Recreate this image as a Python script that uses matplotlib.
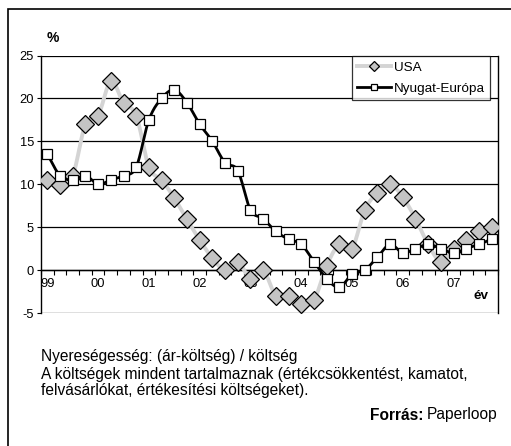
import numpy as np
import matplotlib
matplotlib.use("Agg")
import matplotlib.pyplot as plt
from matplotlib.patches import Rectangle
from matplotlib.lines import Line2D

plt.rcParams['font.family'] = ['Liberation Sans', 'DejaVu Sans']

# quarterly data 1999Q1 .. 2007Q4
year_labels = ["99", "00", "01", "02", "03", "04", "05", "06", "07"]
usa = [10.5, 9.9, 11.0, 17.0, 18.0, 22.0, 19.5, 18.0, 12.0, 10.5,
       8.4, 5.9, 3.5, 1.4, 0.0, 1.0, -1.0, 0.0, -3.0, -3.0,
       -4.0, -3.5, 0.5, 3.0, 2.5, 7.0, 9.0, 10.0, 8.5, 6.0,
       3.0, 1.0, 2.5, 3.5, 4.5, 5.0]
europe = [13.5, 11.0, 10.5, 11.0, 10.0, 10.5, 11.0, 12.0, 17.5, 20.0,
          21.0, 19.5, 17.0, 15.0, 12.5, 11.6, 7.0, 6.0, 4.5, 3.6,
          3.0, 1.0, -1.0, -2.0, -0.5, 0.0, 1.5, 3.0, 2.0, 2.5,
          3.0, 2.5, 2.0, 2.5, 3.0, 3.6]
series_names = ["USA", "Nyugat-Európa"]
yticks = [-5, 0, 5, 10, 15, 20, 25]


def smooth(x, y, n=20):
    """Catmull-Rom style smoothing of the connecting line (Excel 'smoothed line')."""
    x = np.asarray(x, float)
    y = np.asarray(y, float)
    px = np.concatenate([[2 * x[0] - x[1]], x, [2 * x[-1] - x[-2]]])
    py = np.concatenate([[2 * y[0] - y[1]], y, [2 * y[-1] - y[-2]]])
    xs, ys = [], []
    t = np.linspace(0, 1, n, endpoint=False)
    for i in range(1, len(px) - 2):
        p0, p1, p2, p3 = (np.array([px[j], py[j]]) for j in (i - 1, i, i + 1, i + 2))
        c1 = p1 + (p2 - p0) / 6.0
        c2 = p2 - (p3 - p1) / 6.0
        b = ((1 - t) ** 3)[:, None] * p1 + (3 * (1 - t) ** 2 * t)[:, None] * c1 \
            + (3 * (1 - t) * t ** 2)[:, None] * c2 + (t ** 3)[:, None] * p2
        xs.extend(b[:, 0]); ys.extend(b[:, 1])
    xs.append(x[-1]); ys.append(y[-1])
    return np.array(xs), np.array(ys)


W, H = 511, 446
fig = plt.figure(figsize=(W / 100, H / 100), dpi=100)
fig.patch.set_facecolor("white")

# outer frame
fig.patches.append(Rectangle((8 / W, -0.05), 1.2, 1 - 9 / H + 0.05, transform=fig.transFigure,
                             fill=False, edgecolor="black", linewidth=1.2))

ax = fig.add_axes([41 / W, 1 - 313 / H, (498 - 41) / W, (313 - 55.5) / H])
x = np.arange(len(usa))

sx, sy = smooth(x, usa)
ax.plot(sx, sy, color="#d4d4d4", lw=2.8, zorder=3, solid_capstyle="round")
ax.plot(x, usa, ls="none", marker="D", ms=8.8, mfc="#c4c4c4", mec="black", mew=0.9, zorder=4)

ex, ey = smooth(x, europe)
ax.plot(ex, ey, color="black", lw=2.0, zorder=5)
ax.plot(x, europe, ls="none", marker="s", ms=6.5, mfc="white", mec="black", mew=0.9, zorder=6)

ax.set_xlim(-0.5, len(usa) - 0.5)
ax.set_ylim(-5, 25)
ax.set_yticks(yticks)
ax.set_yticklabels([str(v) for v in yticks], fontsize=9.3)
ax.grid(axis="y", color="black", lw=0.9)
ax.set_axisbelow(True)

# x axis crossing at 0
ax.spines["bottom"].set_position(("data", 0))
ax.spines["top"].set_visible(False)
ax.spines["right"].set_linewidth(1.0)
ax.spines["left"].set_linewidth(1.0)
ax.spines["bottom"].set_linewidth(1.0)
ax.set_xticks(np.arange(-0.5, len(usa), 1.0))
ax.set_xticklabels([])
ax.tick_params(axis="x", which="major", direction="out", length=3.5, width=0.8)
ax.set_xticks(np.arange(0, len(usa), 4), minor=True)
ax.set_xticklabels(year_labels, minor=True, fontsize=9.3)
ax.tick_params(axis="x", which="minor", length=0, pad=6)
ax.tick_params(axis="y", direction="out", length=3, width=0.8, pad=2)

# legend
h1 = Line2D([], [], color="#d4d4d4", lw=2.8, marker="D", ms=5, mfc="#c4c4c4", mec="black", mew=0.9)
h2 = Line2D([], [], color="black", lw=2.0, marker="s", ms=5, mfc="white", mec="black", mew=0.9)
leg = fig.legend([h1, h2], series_names, loc="upper left",
                 bbox_to_anchor=(352 / W, 1 - 56 / H), fontsize=9.7, frameon=True,
                 fancybox=False, edgecolor="black", borderaxespad=0, handlelength=2.5,
                 handletextpad=0.2, borderpad=0.4, labelspacing=0.65)
leg.get_frame().set_linewidth(0.9)
leg.set_zorder(10)

fig.text(47 / W, 1 - 38 / H, "%", fontsize=10, fontweight="bold", ha="left", va="center")
fig.text(474 / W, 1 - 296 / H, "év", fontsize=9.7, fontweight="bold", ha="left", va="center")

FS = 11.2
notes = ["Nyereségesség: (ár-költség) / költség",
         "A költségek mindent tartalmaznak (értékcsökkentést, kamatot,",
         "felvásárlókat, értékesítési költségeket)."]
for i, line in enumerate(notes):
    fig.text(41 / W, 1 - (357 + 17 * i) / H, line, fontsize=FS, ha="left", va="center")

fig.text(498 / W, 1 - 415 / H, "Paperloop", fontsize=FS, ha="right", va="center")
t = fig.text(0, 0, "Paperloop", fontsize=FS)
fig.canvas.draw()
r = fig.canvas.get_renderer()
wpx = t.get_window_extent(r).width
t.remove()
fig.text((498 - wpx - 3.5) / W, 1 - 415 / H, "Forrás:", fontsize=FS, fontweight="bold",
         ha="right", va="center")

fig.savefig("out.png", dpi=100)
